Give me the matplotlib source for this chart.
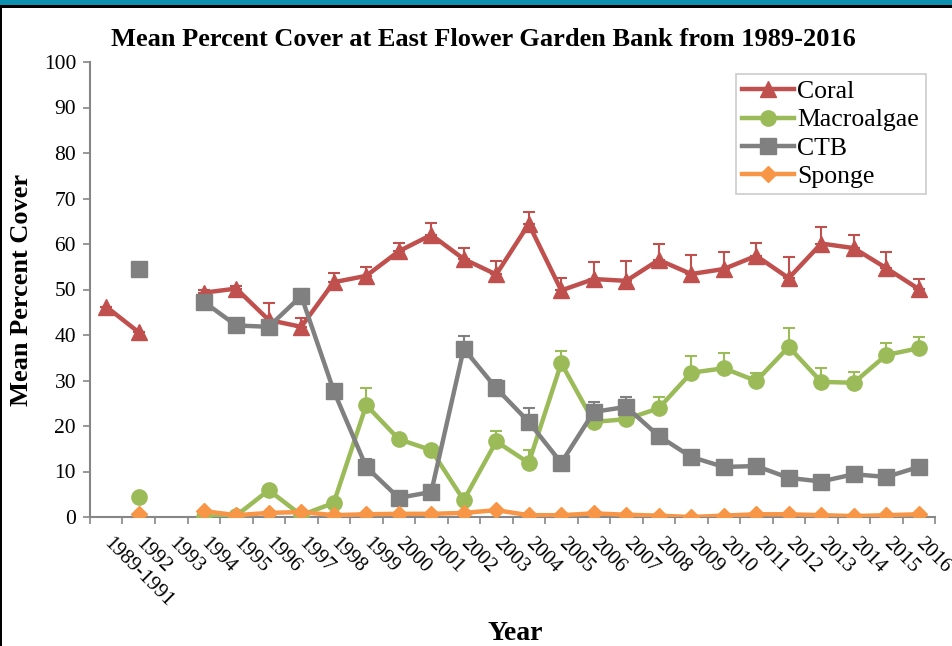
import matplotlib
matplotlib.use("Agg")
import matplotlib.pyplot as plt
from matplotlib.patches import Rectangle
import numpy as np

nan = np.nan

years = ['1989-1991', '1992', '1993', '1994', '1995', '1996', '1997', '1998',
         '1999', '2000', '2001', '2002', '2003', '2004', '2005', '2006', '2007',
         '2008', '2009', '2010', '2011', '2012', '2013', '2014', '2015', '2016']

coral = [46.2, 40.6, nan, 49.3, 50.2, 43.3, 41.8, 51.6, 53.0, 58.4, 62.0,
         56.7, 53.3, 64.4, 49.8, 52.3, 51.9, 56.5, 53.4, 54.5, 57.4, 52.5,
         60.1, 59.1, 54.7, 50.1]
coral_err = [0, 0, 0, 0.5, 0.5, 3.7, 2.0, 2.0, 2.0, 1.9, 2.6, 2.4, 3.0, 2.6,
             2.8, 3.7, 4.3, 3.6, 4.2, 3.7, 2.8, 4.6, 3.6, 2.9, 3.5, 2.1]

macroalgae = [nan, 4.4, nan, 0.0, 0.3, 5.9, 0.4, 3.1, 24.6, 17.1, 14.7, 3.7,
              16.6, 11.9, 33.8, 20.9, 21.5, 23.9, 31.7, 32.7, 29.9, 37.4,
              29.7, 29.5, 35.6, 37.1]
macro_err = [0, 0, 0, 0, 0, 0.5, 0, 0.5, 3.8, 0.5, 0.5, 0.5, 2.4, 2.8, 2.7,
             0.5, 0.5, 2.5, 3.7, 3.3, 1.7, 4.1, 3.0, 2.4, 2.6, 2.5]

ctb = [nan, 54.4, nan, 47.3, 42.1, 41.8, 48.6, 27.7, 11.0, 4.2, 5.5, 37.0,
       28.3, 20.9, 11.9, 23.1, 24.2, 17.8, 13.2, 11.0, 11.2, 8.6, 7.8, 9.4,
       8.8, 11.0]
ctb_err = [0, 0, 0, 0, 0, 0, 0, 0, 1.8, 0, 0, 2.7, 1.8, 3.0, 0, 2.2, 2.2, 0,
           0, 0, 0, 0, 0, 0, 0, 0]

sponge = [nan, 0.7, nan, 1.3, 0.4, 0.9, 1.1, 0.4, 0.6, 0.7, 0.7, 0.9, 1.5,
          0.4, 0.4, 0.8, 0.5, 0.3, 0.0, 0.3, 0.6, 0.6, 0.4, 0.2, 0.4, 0.6]

plt.rcParams['font.family'] = ['Liberation Serif', 'DejaVu Serif']

fig = plt.figure(figsize=(9.53, 6.46), dpi=100)
ax = fig.add_axes([90 / 953, 1 - 517 / 646, 845 / 953, 455 / 646])

x = np.arange(len(years))
series = [
    ('Coral', coral, coral_err, '#C0504D', '^', 11),
    ('Macroalgae', macroalgae, macro_err, '#9BBB59', 'o', 11),
    ('CTB', ctb, ctb_err, '#808080', 's', 11),
    ('Sponge', sponge, None, '#F79646', 'D', 8.5),
]
for name, vals, err, col, mk, ms in series:
    vals = np.array(vals)
    if err is not None:
        e = np.array(err)
        ax.errorbar(x, vals, yerr=[np.zeros_like(e), e], fmt='none',
                    ecolor=col, elinewidth=1.5, capsize=4.5, capthick=1.5,
                    zorder=2)
    ax.plot(x, vals, color=col, lw=3.2, marker=mk, ms=ms, label=name,
            zorder=3)

ax.set_xlim(-0.5, len(years) - 0.5)
ax.set_ylim(0, 100)
ax.set_yticks(np.arange(0, 101, 10))
ax.set_xticks(x)
ax.set_xticklabels(years, rotation=-45, ha='left', va='center',
                   rotation_mode='anchor', fontsize=15)
ax.set_xticks(np.arange(-0.5, len(years), 1), minor=True)
ax.tick_params(axis='x', which='major', length=0, pad=17)
ax.tick_params(axis='x', which='minor', length=5, width=1.2,
               color='#868686', direction='out')
ax.tick_params(axis='y', length=5, width=1.2, color='#868686',
               labelsize=15.5, direction='out', pad=5)
for s in ['top', 'right']:
    ax.spines[s].set_visible(False)
for s in ['left', 'bottom']:
    ax.spines[s].set_color('#868686')
    ax.spines[s].set_linewidth(1.5)

fig.text(483 / 953, 1 - 40 / 646,
         'Mean Percent Cover at East Flower Garden Bank from 1989-2016',
         fontsize=19, fontweight='bold', ha='center', va='center')
ax.set_ylabel('Mean Percent Cover', fontsize=19, fontweight='bold',
              labelpad=8)
fig.text(515 / 953, 1 - 633 / 646, 'Year', fontsize=20, fontweight='bold',
         ha='center', va='center')

leg = ax.legend(loc='upper right', bbox_to_anchor=(0.995, 0.985),
                fontsize=18.5, frameon=True, fancybox=False, handlelength=2.0,
                handletextpad=0.15, borderpad=0.25, labelspacing=0.2,
                borderaxespad=0.2)
leg.get_frame().set_edgecolor('#BFBFBF')
leg.get_frame().set_linewidth(1.2)

# window frame
fig.add_artist(Rectangle((0, 1 - 5 / 646), 1, 5 / 646,
                         transform=fig.transFigure, color='#0E91B1', lw=0))
fig.add_artist(Rectangle((0, 1 - 7.5 / 646), 1, 2.5 / 646,
                         transform=fig.transFigure, color='black', lw=0))
fig.add_artist(Rectangle((0, 0), 2.5 / 953, 1 - 5 / 646,
                         transform=fig.transFigure, color='black', lw=0))

fig.savefig('out.png', dpi=100)
